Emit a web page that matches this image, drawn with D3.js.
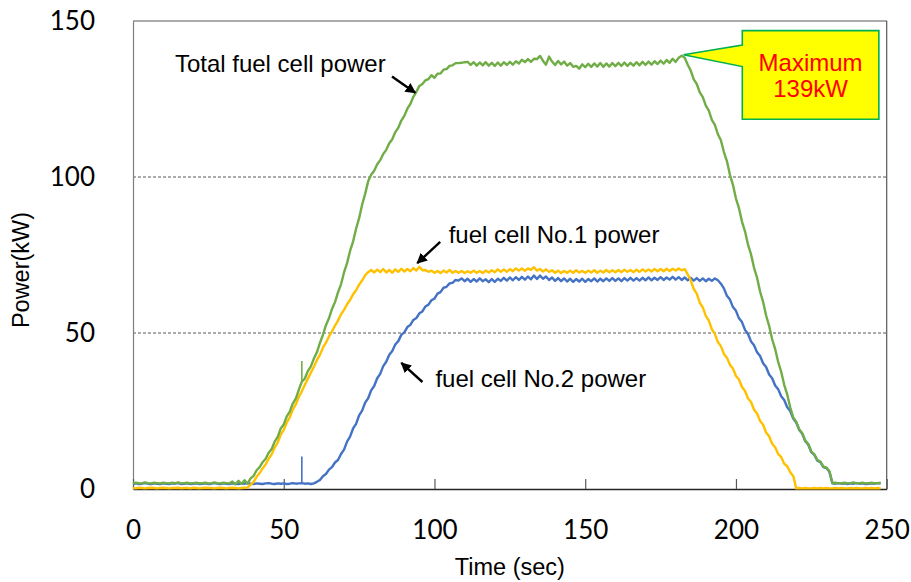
<!DOCTYPE html>
<html>
<head>
<meta charset="utf-8">
<script src="https://cdn.jsdelivr.net/npm/d3@7"></script>
<style>
  html, body { margin: 0; padding: 0; background: #ffffff; }
  svg { display: block; }
</style>
</head>
<body>
<svg id="chart" width="911" height="582"></svg>
<script>
// ---------------- DATA ----------------
// time in seconds, one sample per second (0 .. 248)
const time = d3.range(0, 249);

// fuel cell No.1 power (kW) - yellow
const fc1Power = [
  0.3,0.2,0.4,0.3,0.2,0.3,0.4,0.3,0.2,0.3, 0.4,0.3,0.2,0.3,0.3,0.4,0.2,0.3,0.3,0.2,
  0.4,0.3,0.2,0.3,0.4,0.3,0.3,0.2,0.3,0.4, 0.3,0.2,0.3,0.4,0.3,0.2,0.3,0.4,
  0.5,1.3,2.3,3.9,5.1,6.6,7.9,9.7,11.1,13.3, 14.9,17.4,18.9,21.3,23.0,25.4,27.1,29.5,31.3,33.4,
  35.3,37.3,39.2,41.3,43.0,45.3,46.9,48.9,50.5,52.4, 54.0,56.0,57.4,59.2,60.6,62.4,63.7,65.5,66.8,68.5,
  69.5,
  70.2,69.4,70.3,69.5,70.5,69.4,70.2,69.3,70.4,69.6,
  70.6,69.7,70.5,69.8,70.8,70.0,71.2,70.1,70.2,69.6,
  70.0,69.3,69.9,69.2,70.0,69.4,70.2,69.3,69.9,69.3,
  69.9,69.2,69.8,69.3,70.0,69.3,69.9,69.2,70.0,69.4,
  70.1,69.5,70.4,69.6,70.4,69.6,70.5,69.8,70.7,70.0,
  70.7,69.9,70.7,70.2,71.1,70.0,70.5,69.7,70.4,69.6,
  70.1,69.3,70.0,69.2,69.9,69.3,70.0,69.3,70.1,69.4,
  69.9,69.3,70.0,69.4,70.1,69.3,70.0,69.4,70.2,69.5,
  70.1,69.5,70.2,69.5,70.3,69.6,70.2,69.5,70.3,69.6,
  70.4,69.7,70.4,69.7,70.5,69.8,70.5,69.8,70.6,69.9,
  70.6,70.0,70.7,70.1,70.5,
  68.8,66.9,64.1,62.6,59.7,58.2,55.5,54.0,51.2,49.7,
  47.1,45.8,43.3,42.1,39.8,38.6,36.2,35.1,32.7,31.4,
  29.0,27.9,25.4,24.2,21.8,20.6,18.1,16.9,14.5,13.4,
  11.2,10.3,8.1,7.3,5.4,4.2,
  0.2,0.3,0.2,0.3,0.2,0.2,0.3,0.2,0.3,0.2, 0.3,0.2,0.2,0.3,0.2,0.3,0.2,0.2,0.3,0.2,
  0.3,0.2,0.2,0.3,0.2,0.3,0.2,0.3,0.2
];

// fuel cell No.2 power (kW) - blue
const fc2Power = [
  1.7,1.8,1.6,1.7,1.9,1.7,1.6,1.8,1.7,1.6, 1.8,1.7,1.6,1.8,1.7,1.9,1.6,1.7,1.8,1.6,
  1.7,1.8,1.6,1.7,1.8,1.6,1.7,1.9,1.7,1.6, 1.8,1.7,1.6,1.8,1.7,1.6,1.8,1.7,1.9,1.7,
  1.6,1.8,1.7,1.6,1.8,1.9,1.7,1.6,1.8,1.7, 1.8,1.6,1.7,1.9,1.7,1.8,1.9,1.7,1.8,1.6,
  1.8,2.3,2.9,4.1,4.8,6.2,7.0,8.5,9.3,11.2,
  12.6,15.2,16.8,19.4,20.9,23.6,25.1,27.7,29.1,31.6,
  33.0,35.5,36.9,39.4,40.8,43.0,44.2,46.3,47.4,49.4,
  50.2,51.9,52.6,54.2,54.8,56.3,56.9,58.5,59.1,60.5,
  61.0,62.6,63.1,64.5,64.8,65.9,66.1,67.0,66.8,
  67.5,66.6,67.4,66.4,67.3,66.5,67.5,66.6,67.2,66.3,
  67.3,66.4,67.4,66.7,67.7,66.8,67.8,66.9,67.9,67.0,
  68.0,67.1,68.1,67.2,68.4,67.3,68.4,67.4,68.1,67.0,
  67.8,66.7,67.6,66.6,67.5,66.5,67.4,66.4,67.3,66.5,
  67.4,66.4,67.3,66.6,67.5,66.5,67.4,66.6,67.5,66.7,
  67.6,66.7,67.5,66.6,67.6,66.8,67.7,66.8,67.6,66.8,
  67.7,66.9,67.8,66.9,67.7,67.0,67.9,67.0,67.8,67.1,
  68.0,67.1,67.9,67.0,67.8,66.9,67.7,66.8,67.6,66.7,
  67.5,66.6,67.4,66.7,67.5,66.9,
  65.8,64.3,61.9,60.7,58.3,57.1,54.7,53.5,51.0,49.7,
  47.3,46.1,43.8,42.6,40.3,39.1,36.7,35.5,33.2,32.0,
  29.7,28.5,26.2,25.0,22.6,21.3,18.9,17.7,15.3,14.2,
  11.8,10.9,9.1,8.6,7.0,6.7,5.5,
  1.8,1.7,1.9,1.7,1.8,1.6,1.8,1.7,1.9,1.7, 1.8,1.6,1.7,1.8,1.7,1.9,1.7
];

// total fuel cell power (kW) - green
const totalPower = [
  1.9,2.0,1.8,1.9,2.1,1.9,1.8,2.0,1.9,1.8, 2.0,1.9,1.8,2.0,1.9,2.1,1.8,1.9,2.0,1.8,
  1.9,2.0,1.8,1.9,2.0,1.8,1.9,2.1,1.9,1.8, 2.0,1.9,1.8,2.4,1.5,2.6,1.6,2.8,
  1.7,3.4,4.2,6.0,7.0,8.6,9.7,11.6,12.8,15.2,
  16.7,19.4,20.7,23.3,24.8,27.4,29.0,31.8,34.4,35.4,
  37.8,39.3,41.8,43.8,46.8,49.4,52.5,54.7,57.7,59.9,
  63.0,65.6,69.4,72.4,76.3,79.3,83.4,86.8,91.1,94.6,
  98.6,
  100.7,102.0,104.1,105.4,107.4,108.7,110.8,112.1,114.4,115.8,
  118.1,119.6,121.9,123.4,125.7,127.3,129.2,129.8,131.0,131.4,
  132.6,131.8,133.1,133.2,134.4,134.6,135.6,135.8,136.5,136.5,
  136.6,136.8,
  136.9,135.9,136.8,135.7,136.7,135.8,136.8,135.7,136.6,135.6,
  136.7,135.7,136.8,135.9,136.9,136.0,137.1,136.4,137.6,136.8,
  137.8,136.9,137.9,137.8,138.8,137.2,136.0,138.6,137.0,135.9,
  137.2,136.1,137.0,135.7,136.5,135.3,135.6,134.7,136.1,135.2,
  136.3,135.3,136.4,135.4,136.5,135.3,136.4,135.4,136.5,135.5,
  136.6,135.6,136.7,135.6,136.6,135.7,136.8,135.8,136.9,135.9,
  137.0,136.0,137.1,136.2,137.3,136.3,137.5,136.6,137.9,136.9,
  138.2,138.9,
  138.2,
  136.0,134.1,131.3,129.8,127.1,125.6,122.9,121.3,118.3,116.7,
  113.7,111.8,108.0,105.1,100.7,97.5,93.1,90.0,85.7,82.6,
  78.3,75.2,70.9,67.7,63.3,60.0,55.6,52.3,48.0,44.9,
  40.7,37.6,33.4,30.3,26.2,22.9,21.5,19.1,17.9,15.5,
  14.4,12.0,11.1,9.3,8.8,7.2,6.9,5.7,
  1.9,2.0,1.8,1.9,2.0,1.8,1.9,2.1,1.8,1.9, 2.0,1.8,1.9,2.0,1.8,1.9,2.0
];

// single-sample spikes (time, series, peak kW)
const spikeTime = [56, 56];
const spikeSeries = ["fc2", "total"];
const spikePeak = [10.4, 41.0];

const xTicks = [0, 50, 100, 150, 200, 250];
const yTicks = [0, 50, 100, 150];
const gridValues = [50, 100];

const xTitle = "Time (sec)";
const yTitle = "Power(kW)";
const labelTotal = "Total fuel cell power";
const labelFc1 = "fuel cell No.1 power";
const labelFc2 = "fuel cell No.2 power";
const calloutLines = ["Maximum", "139kW"];
const peakTime = 182.6, peakValue = 139.2;

// ---------------- LAYOUT ----------------
const plot = { left: 133, right: 886.7, top: 21, bottom: 489 };
const colors = { fc1: "#FFC000", fc2: "#4472C4", total: "#70AD47" };
const seriesValues = { fc1: fc1Power, fc2: fc2Power, total: totalPower };

const svg = d3.select("#chart");
const x = d3.scaleLinear().domain([0, 250]).range([plot.left, plot.right]);
const y = d3.scaleLinear().domain([0, 150]).range([plot.bottom, plot.top]);

const arial = "'Liberation Sans', Arial, sans-serif";
const tickFont = "Lato, 'Open Sans', sans-serif";

// gridlines
svg.append("g").selectAll("line").data(gridValues).join("line")
  .attr("x1", plot.left).attr("x2", plot.right)
  .attr("y1", d => y(d)).attr("y2", d => y(d))
  .attr("stroke", "#595959").attr("stroke-width", 1)
  .attr("stroke-dasharray", "3,2");

// frame top & right
svg.append("path")
  .attr("d", `M${plot.left},${plot.top}H${plot.right}V${plot.bottom}`)
  .attr("fill", "none").attr("stroke", "#595959").attr("stroke-width", 1.2);

// y axis
const yAxis = svg.append("g")
  .attr("transform", `translate(${plot.left},0)`)
  .call(d3.axisLeft(y).tickValues(yTicks).tickSize(0).tickPadding(38).tickFormat(d3.format("d")));
yAxis.select(".domain").attr("stroke", "#7f7f7f").attr("stroke-width", 1.2);
yAxis.selectAll("text").attr("font-family", tickFont).attr("font-size", 26).attr("fill", "#000");

// x axis
const xAxis = svg.append("g")
  .attr("transform", `translate(0,${plot.bottom})`)
  .call(d3.axisBottom(x).tickValues(xTicks).tickSizeInner(-10).tickSizeOuter(0).tickFormat(d3.format("d")));
xAxis.select(".domain").attr("stroke", "#262626").attr("stroke-width", 1.4);
xAxis.selectAll(".tick line").attr("stroke", "#595959").attr("stroke-width", 1.2);
xAxis.selectAll("text").attr("font-family", tickFont).attr("font-size", 26).attr("fill", "#000")
  .attr("dy", null).attr("y", 50);

// axis titles
svg.append("text").attr("x", (plot.left + plot.right) / 2).attr("y", 575)
  .attr("text-anchor", "middle").attr("font-family", arial).attr("font-size", 23.5)
  .text(xTitle);
svg.append("text").attr("transform", `translate(29,270) rotate(-90)`)
  .attr("text-anchor", "middle").attr("font-family", arial).attr("font-size", 23.5)
  .text(yTitle);

// lines
const line = d3.line().x(d => x(d[0])).y(d => y(d[1]));
["fc2", "fc1", "total"].forEach(key => {
  const pts = time.map((t, i) => [t, seriesValues[key][i]]);
  svg.append("path").datum(pts)
    .attr("d", line)
    .attr("fill", "none")
    .attr("stroke", colors[key])
    .attr("stroke-width", 2.4)
    .attr("stroke-linejoin", "round");
  spikeTime.forEach((t, j) => {
    if (spikeSeries[j] !== key) return;
    const base = seriesValues[key][time.indexOf(t)];
    svg.append("line")
      .attr("x1", x(t)).attr("x2", x(t))
      .attr("y1", y(base)).attr("y2", y(spikePeak[j]))
      .attr("stroke", colors[key]).attr("stroke-width", 1.6);
  });
});

// arrows
const defs = svg.append("defs");
defs.append("marker").attr("id", "arrow")
  .attr("viewBox", "0 0 10 10").attr("refX", 9).attr("refY", 5)
  .attr("markerWidth", 4.4).attr("markerHeight", 4.4).attr("orient", "auto")
  .attr("markerUnits", "strokeWidth")
  .append("path").attr("d", "M0,0L10,5L0,10Z").attr("fill", "#000");

function arrow(t1, p1, t2, p2) {
  svg.append("line")
    .attr("x1", x(t1)).attr("y1", y(p1))
    .attr("x2", x(t2)).attr("y2", y(p2))
    .attr("stroke", "#000").attr("stroke-width", 2.4)
    .attr("marker-end", "url(#arrow)");
}
arrow(85.9, 132.2, 93.6, 127.0);   // total
arrow(101.9, 79.2, 94.3, 72.4);    // No.1
arrow(96.0, 34.3, 89.0, 40.4);     // No.2

function label(t, p, txt) {
  svg.append("text").attr("x", x(t)).attr("y", y(p))
    .attr("font-family", arial).attr("font-size", 24).attr("fill", "#000")
    .text(txt);
}
label(13.9, 133.6, labelTotal);
label(104.7, 78.8, labelFc1);
label(100.3, 32.7, labelFc2);

// callout box
const bx0 = x(202.1), bx1 = x(247.4), by0 = y(146.9), by1 = y(118.5);
const ptrTop = y(142.3), ptrBot = y(135.4);
const tipX = x(peakTime), tipY = y(peakValue);
svg.append("path")
  .attr("d", `M${bx0},${by0}H${bx1}V${by1}H${bx0}V${ptrBot}L${tipX},${tipY}L${bx0},${ptrTop}Z`)
  .attr("fill", "#FFFF00").attr("stroke", "#00B050").attr("stroke-width", 1.6)
  .attr("stroke-linejoin", "miter");
const cx = (bx0 + bx1) / 2;
svg.append("text").attr("x", cx).attr("y", y(134.1))
  .attr("text-anchor", "middle").attr("font-family", arial).attr("font-size", 24)
  .attr("fill", "#FF0000").text(calloutLines[0]);
svg.append("text").attr("x", cx).attr("y", y(125.7))
  .attr("text-anchor", "middle").attr("font-family", arial).attr("font-size", 24)
  .attr("fill", "#FF0000").text(calloutLines[1]);
</script>
</body>
</html>
